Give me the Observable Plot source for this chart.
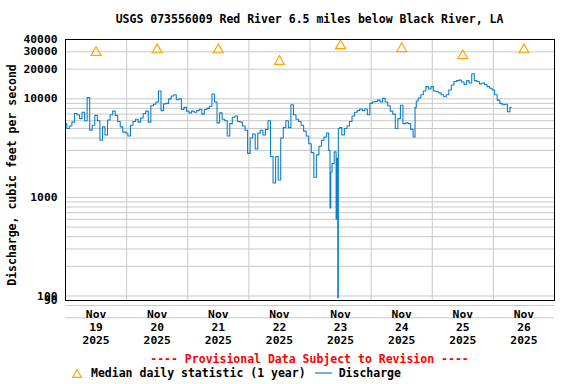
<!DOCTYPE html>
<html>
<head>
<meta charset="utf-8">
<script src="https://cdn.jsdelivr.net/npm/d3@7"></script>
<script src="https://cdn.jsdelivr.net/npm/@observablehq/plot@0.6"></script>
<style>
  body { margin: 0; background: #fff; }
  #wrap { position: relative; width: 576px; height: 384px; overflow: hidden;
          font-family: "DejaVu Sans Mono", monospace; font-weight: bold; color: #000; }
  #title { box-sizing: border-box; height: 30px; padding-top: 12px; padding-left: 65px; width: 554px;
           text-align: center; font-size: 11.5px; line-height: 14px; white-space: nowrap; }
  #chart svg { display: block; }
  #ylab { position: absolute; left: 12px; top: 175px; transform: translate(-50%, -50%) rotate(-90deg);
          white-space: nowrap; font-size: 11.5px; line-height: 14px; }
  #prov { box-sizing: border-box; margin-top: 4px; height: 14px; padding-left: 65px; width: 554px;
          text-align: center; font-size: 11.5px; line-height: 14px; color: #ff0000; white-space: nowrap; }
  #legend { display: flex; align-items: center; height: 14px; font-size: 11.5px; line-height: 14px; white-space: nowrap; }
</style>
</head>
<body>
<div id="wrap">
  <div id="title">USGS 073556009 Red River 6.5 miles below Black River, LA</div>
  <div id="chart"></div>
  <div id="ylab">Discharge, cubic feet per second</div>
  <div id="prov">---- Provisional Data Subject to Revision ----</div>
  <div id="legend">
    <svg width="10" height="9" style="margin-left:72px;margin-right:9px"><path d="M5,0.8L9.3,8.3L0.7,8.3Z" fill="none" stroke="#ffa500" stroke-width="1.2"/></svg>
    <span>Median daily statistic (1 year)</span>
    <svg width="17" height="4" style="margin-left:9px;margin-right:7px"><line x1="0" x2="17" y1="2" y2="2" stroke="#0a7fcc" stroke-width="1.2"/></svg>
    <span>Discharge</span>
  </div>
</div>
<script>
// ---- Data ----
// Hourly discharge (cfs), hour 0 = Nov 19 2025 00:00
const discharge = [
  5600, 5000, 5300, 5800, 7100, 6900, 6300, 7300, 6000, 10300,
  4800, 5400, 6800, 6000, 3800, 5200, 4300, 6100, 6900, 7500,
  6800, 5900, 5200, 4600, 4500, 4200, 5400, 5900, 6200, 5800,
  6400, 7100, 7500, 5800, 8500, 8800, 9300, 12000, 7600, 8900,
  9000, 10000, 10700, 11000, 9800, 10000, 7800, 8200, 7500, 7200,
  7500, 7300, 7600, 7800, 7000, 7800, 8000, 8400, 11200, 9300,
  5700, 7200, 6200, 6000, 4200, 5600, 6500, 6700, 5900, 5800,
  5300, 4800, 2800, 4000, 4400, 3100, 4500, 4800, 4300, 4900,
  6000, 2600, 1400, 2600, 1500, 4000, 5100, 6000, 5100, 8700,
  6900, 6200, 5900, 5400, 4700, 4200, 3500, 2850, 1600, 2700,
  3300, 3800, 4100, 4500, 780, 2200, 2900, 96, 5100, 4300,
  5000, 5300, 5900, 6700, 7300, 7600, 7900, 7600, 7900, 6900,
  9000, 9300, 9400, 9700, 9300, 10100, 9300, 8500, 7500, 7000,
  5000, 6300, 8600, 5600, 5700, 5600, 4900, 4100, 9500, 10200,
  11000, 12000, 13300, 12600, 13300, 12000, 11800, 11500, 11000, 10500,
  11000, 12300, 13800, 15000, 15300, 15500, 14800, 14000, 15300, 14500,
  18000, 15300, 15000, 14200, 14500, 14000, 13300, 12800, 12300, 11000,
  9700, 9000, 8700, 8800, 7400, 8200
];
// extra readings between the hours (sharp dips)
const extraHours = [103.7, 104.3, 106.5, 106.8, 107.25, 137.5];
const extraCfs   = [3000, 1800, 600, 2500, 5000, 8200];

// Median daily statistic, Nov 19 .. Nov 26
const medianDays = ["2025-11-19", "2025-11-20", "2025-11-21", "2025-11-22", "2025-11-23", "2025-11-24", "2025-11-25", "2025-11-26"];
const medianCfs  = [29500, 31400, 31400, 23900, 34600, 32300, 27400, 31400];

const yTicks = [40000, 30000, 20000, 10000, 1000, 100];
const yBottomTick = [90];

// ---- Build ----
const H = 3600e3;
const start = Date.UTC(2025, 10, 19);
const series = discharge.map((v, i) => ({h: i, cfs: v}))
  .concat(extraHours.map((h, i) => ({h, cfs: extraCfs[i]})))
  .sort((a, b) => a.h - b.h)
  .map(d => ({date: new Date(start + d.h * H), cfs: d.cfs}));

const noon = medianDays.map(s => new Date(Date.parse(s + "T12:00:00Z")));
const medians = noon.map((d, i) => ({date: d, cfs: medianCfs[i]}));
const midnights = d3.range(1, 8).map(i => new Date(start + i * 24 * H));
const gridY = [...d3.range(100, 1000, 100), ...d3.range(1000, 10000, 1000), 10000, 20000, 30000, 40000];
const grey = "#c8c8c8";

const chart = Plot.plot({
  width: 576, height: 318,
  marginTop: 9, marginBottom: 48, marginLeft: 65, marginRight: 22,
  style: {fontFamily: "DejaVu Sans Mono", fontSize: "11.3px", fontWeight: "bold", background: "#fff", overflow: "visible"},
  x: {type: "utc", domain: [new Date(start), new Date(start + 8 * 24 * H)]},
  y: {type: "log", domain: [90, 40000]},
  marks: [
    Plot.ruleY(gridY, {stroke: grey}),
    Plot.ruleY([80, 60], {stroke: grey}),
    Plot.ruleX(midnights, {stroke: grey}),
    Plot.lineY(series, {x: "date", y: "cfs", curve: "step", stroke: "#0a7fcc", strokeWidth: 1.1}),
    Plot.dot(medians, {x: "date", y: "cfs", symbol: "triangle", r: 3.7, fill: "none", stroke: "#ffa500", strokeWidth: 1.2}),
    Plot.frame({stroke: "#000"}),
    Plot.axisY({ticks: yTicks, tickFormat: d => String(d), tickSize: 0, tickPadding: 8, label: null}),
    Plot.text(yBottomTick, {y: d => d, text: d => String(d), frameAnchor: "left", textAnchor: "end", dx: -8}),
    Plot.axisX({ticks: noon, tickFormat: d3.utcFormat("%b\n%d\n%Y"), tickSize: 0, tickPadding: 8, label: null, lineHeight: 1.15})
  ]
});
document.getElementById("chart").appendChild(chart);
</script>
</body>
</html>
